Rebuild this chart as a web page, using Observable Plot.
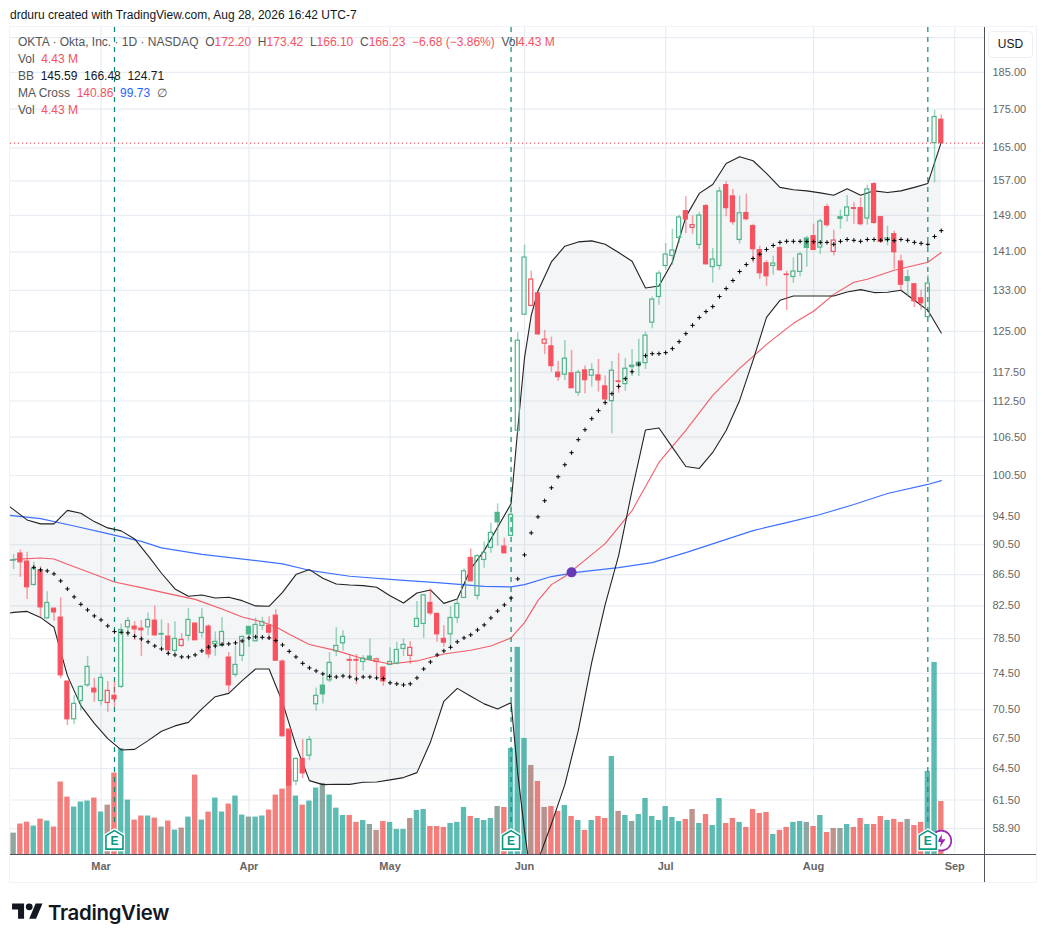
<!DOCTYPE html>
<html>
<head>
<meta charset="utf-8">
<script src="https://cdn.jsdelivr.net/npm/d3@7"></script>
<script src="https://cdn.jsdelivr.net/npm/@observablehq/plot@0.6"></script>
<style>
html,body{margin:0;padding:0;background:#fff;overflow:hidden;}
#page{position:relative;width:1046px;height:942px;font-family:"Liberation Sans",Arial,sans-serif;color:#131722;}
#page svg.chart{position:absolute;left:0;top:0;}
#head{position:absolute;left:10px;top:7px;font-size:12px;line-height:16px;white-space:nowrap;}
.lg{position:absolute;left:18px;font-size:12px;line-height:16px;color:#555;white-space:nowrap;}
.lg b{font-weight:normal;color:#f7525f;}
.lg i{font-style:normal;color:#131722;}
.lg u{text-decoration:none;color:#2962ff;}
.ln{position:absolute;background:#50535e;}
.fr{position:absolute;left:9px;top:26px;width:1026px;height:855px;border:1px solid #f0f3fa;}
#usd{position:absolute;left:988px;top:31px;width:43px;height:25px;border:1px solid #eceff3;border-radius:4px;background:#fff;font-size:12px;line-height:25px;text-align:center;color:#131722;}
#logo{position:absolute;left:12px;top:900px;display:flex;align-items:center;height:24px;}
#logo span{font-family:Inter,"Liberation Sans",sans-serif;font-weight:600;font-size:20.4px;letter-spacing:-.3px;color:#131722;margin-left:5px;}
</style>
</head>
<body>
<div id="page">
  <div class="fr"></div>
  <div id="chart"></div>
  <div class="ln" style="left:984px;top:27px;width:1px;height:855px"></div>
  <div class="ln" style="left:10px;top:854px;width:1026px;height:1px"></div>
  <div id="head">drduru created with TradingView.com, Aug 28, 2026 16:42 UTC-7</div>
  <div class="lg" style="top:34px">OKTA · Okta, Inc. · 1D · NASDAQ&nbsp; O<b>172.20</b>&nbsp; H<b>173.42</b>&nbsp; L<b>166.10</b>&nbsp; C<b>166.23</b>&nbsp; <b>−6.68 (−3.86%)</b>&nbsp; Vol<b>4.43 M</b></div>
  <div class="lg" style="top:51px">Vol&nbsp; <b>4.43 M</b></div>
  <div class="lg" style="top:68px">BB&nbsp; <i>145.59</i>&nbsp; <i>166.48</i>&nbsp; <i>124.71</i></div>
  <div class="lg" style="top:85px">MA Cross&nbsp; <b>140.86</b>&nbsp; <u>99.73</u>&nbsp; ∅</div>
  <div class="lg" style="top:102px">Vol&nbsp; <b>4.43 M</b></div>
  <div id="usd">USD</div>
  <div id="logo">
    <svg width="31" height="24" viewBox="0 0 36 28" fill="#131722"><path d="M14 22H7V11H0V4h14v18zM28 22h-8l7.5-18h8L28 22z"/><circle cx="20" cy="8" r="4"/></svg>
    <span>TradingView</span>
  </div>
</div>
<script>
const opens = [88.42,89.30,88.22,85.16,87.03,80.96,82.16,81.05,73.57,69.49,
71.45,73.16,72.79,71.45,71.23,72.00,72.98,79.87,79.95,79.71,
79.87,80.68,79.07,78.75,77.07,77.65,78.84,80.32,79.19,79.95,
77.84,77.65,76.29,74.32,76.49,79.92,78.20,80.04,80.07,81.29,
75.83,68.41,63.26,65.44,65.77,71.09,73.12,73.71,77.02,77.96,
76.02,76.02,75.79,76.40,75.79,75.14,75.45,75.60,77.30,76.49,
79.92,80.28,82.87,81.50,78.48,79.03,81.01,83.50,88.71,83.76,
88.44,90.07,94.97,90.25,91.72,107.55,128.2,129.9,132.4,122.7,
122.2,117.43,117.07,117.3,113.92,117.83,116.89,116.94,115.01,112.48,
115.8,115.41,118.67,118.6,119.14,126.66,131.68,138.01,140.12,144.0,
149.94,146.2,142.48,151.09,137.78,138.01,155.98,153.33,143.56,149.52,
146.58,141.34,138.58,138.01,141.77,136.22,135.73,136.77,143.87,144.37,
141.92,150.86,140.97,148.58,148.88,150.63,150.63,148.29,156.2,148.58,
143.43,144.81,138.94,135.67,134.24,131.42,127.74,166.2,172.20];
const closes = [88.35,88.13,84.86,87.25,82.32,82.87,81.70,74.27,69.49,71.13,
72.98,75.22,72.38,73.98,72.54,71.62,79.55,80.64,79.63,79.51,
80.77,78.91,78.99,77.14,78.48,78.36,80.77,78.32,81.01,76.67,
78.13,79.31,73.16,75.45,78.72,79.03,80.16,80.52,79.23,75.94,
67.72,62.85,65.44,64.03,67.35,72.00,72.16,75.68,77.65,78.72,
75.94,75.94,76.17,76.02,76.09,73.60,75.79,77.18,77.77,77.42,
80.89,83.83,81.58,79.03,78.04,81.01,82.75,86.94,85.63,88.94,
89.39,92.14,93.63,89.34,94.68,123.25,139.78,135.2,124.44,123.44,
118.6,116.64,119.94,114.7,117.42,116.11,117.88,116.06,112.77,117.78,
115.89,118.13,118.42,119.21,124.2,131.16,136.43,140.42,141.28,148.52,
148.07,146.8,148.95,138.37,139.36,154.49,150.63,147.47,149.46,148.13,
141.55,136.49,135.87,138.51,137.12,136.12,136.85,140.42,141.83,141.4,
147.62,146.8,143.43,148.2,150.79,150.47,147.02,154.96,147.3,143.13,
143.87,140.91,134.15,134.91,130.82,130.43,134.38,172.91,166.23];
const highs = [89.17,89.79,89.48,88.13,87.56,84.30,82.16,83.50,73.57,72.02,
73.12,76.40,73.94,74.46,73.57,73.57,80.28,81.08,80.56,80.68,
81.63,82.49,80.77,80.32,80.56,79.11,82.16,80.36,82.16,80.16,
79.31,81.05,76.87,77.61,78.79,79.95,81.01,81.08,81.17,82.03,
76.02,68.41,65.57,67.38,67.69,72.87,74.05,76.87,79.83,79.47,
76.60,76.64,76.52,78.48,76.20,75.14,77.45,78.08,78.48,78.16,
83.04,83.88,84.65,81.63,80.07,82.41,83.50,87.25,89.93,89.17,
90.89,93.48,96.29,91.39,96.03,124.76,142.42,136.9,132.4,125.2,
123.92,119.45,123.31,121.46,117.83,118.6,119.03,119.81,116.82,119.45,
120.85,119.99,121.64,123.5,124.88,131.68,136.97,142.78,145.91,149.04,
153.23,148.88,149.64,151.48,141.7,155.44,156.76,154.96,153.39,153.86,
147.02,142.2,139.15,140.06,142.2,136.91,139.7,140.85,144.37,147.02,
148.13,151.55,145.69,150.17,153.56,151.85,153.0,155.98,156.52,148.66,
146.58,145.47,140.27,137.12,134.24,133.02,136.08,174.7,173.42];
const lows = [87.16,86.15,83.32,85.0,81.08,80.89,80.60,73.87,68.83,68.93,
70.34,72.93,71.30,70.94,70.23,70.76,72.83,78.67,78.28,76.44,
78.87,78.79,77.49,76.60,76.75,77.49,78.20,78.28,78.60,76.20,
76.44,77.61,72.38,74.05,75.83,77.49,78.13,79.47,78.36,75.88,
67.69,62.76,62.85,63.52,65.27,70.34,71.13,73.46,76.40,77.02,
74.05,73.23,74.72,75.94,74.16,73.04,75.41,75.48,76.44,75.52,
79.83,78.55,81.29,78.08,77.49,77.49,80.32,83.46,85.59,83.25,
87.33,89.34,90.29,89.26,91.62,107.11,128.1,129.83,124.25,120.72,
117.5,115.88,116.06,114.66,113.33,113.75,114.89,114.03,112.21,107.06,
113.85,114.15,116.76,116.76,118.0,125.52,130.03,137.12,138.16,142.78,
144.96,144.81,141.55,138.16,134.5,137.12,148.66,146.8,142.63,147.75,
138.65,135.25,133.83,136.08,136.97,129.05,134.43,135.73,137.78,141.34,
140.42,146.35,140.12,145.91,147.53,147.02,146.64,146.8,147.02,142.85,
142.27,137.26,132.88,131.68,129.59,129.05,127.63,156.5,166.10];
// candle colour: g = close above previous close, r = below
const trend = ("grrgrgrrrg"+"ggrgrrggrr"+"grgrgrgrgr"+"ggrgggggrr"+"rrgrgggggg"+"rrggrrgggr"+"ggrrrgggrg"+
  "gggrgggrrr"+"rrgrgrgrrg"+"rggggggggg"+"rrgrggrrgr"+"rrrgrrgggr"+"grrggrrgrr"+"grrgrrggr").split("");
// volume in millions
const volumes = [1.78,2.54,2.70,2.37,2.95,2.79,2.29,6.05,4.79,3.96,
4.38,4.46,4.71,3.54,4.12,6.80,8.84,4.54,2.87,3.21,
3.21,3.04,2.29,2.79,2.03,2.20,3.12,6.63,2.87,3.54,
4.71,3.54,4.21,4.88,3.29,3.12,3.12,3.21,3.71,4.96,
5.46,7.19,4.88,4.12,4.46,5.55,5.94,4.96,3.87,3.26,
3.26,2.68,2.84,2.51,2.01,2.76,2.68,2.09,2.09,3.01,
3.68,3.76,2.34,2.34,2.26,2.59,2.68,3.93,3.18,3.01,
2.84,3.01,4.01,3.93,8.86,17.31,9.70,7.44,6.10,3.93,
4.01,3.60,4.10,3.18,2.84,2.01,2.84,3.18,3.01,8.19,
3.60,3.26,2.76,3.34,4.68,3.18,2.84,4.01,3.09,2.76,
2.93,3.76,2.59,3.34,2.42,4.68,2.59,3.01,2.68,2.26,
3.76,3.43,3.51,1.67,2.01,2.26,2.68,2.76,2.68,2.34,
3.26,1.84,2.17,2.17,2.51,2.26,3.01,2.51,2.51,3.18,
2.84,2.93,2.68,2.93,2.42,2.68,6.94,16.05,4.43];

const bbIndex = [-1,0,2,4,6,8,10,12,14,16,18,20,22,24,26,28,30,32,34,36,38,40,42,44,46,48,50,52,54,56,58,60,62,64,66,68,70,72,74,75,76,77,78,
80,82,84,86,88,90,92,94,96,98,100,102,104,106,108,110,112,114,116,118,120,122,124,126,128,130,132,134,136,138];
const bbUpper = [96.18,95.45,93.97,93.41,93.41,95.34,94.91,93.73,92.84,92.42,91.30,89.02,86.68,84.65,83.71,83.88,83.50,83.58,83.16,82.50,82.45,84.21,86.51,87.16,86.02,85.29,85.16,85.07,84.86,83.79,82.87,84.13,84.52,82.82,83.37,87.25,89.70,92.93,96.29,107.91,120.06,128.07,132.88,
138.85,142.2,143.13,143.35,142.63,140.85,139.0,133.48,133.88,138.85,148.66,154.03,156.13,161.18,162.82,161.83,158.76,155.44,154.87,154.63,154.16,153.62,155.1,153.62,154.63,154.26,154.63,155.44,156.38,166.48];
const bbLower = [81.54,81.7,81.82,81.08,79.87,74.24,70.94,69.07,67.49,66.34,66.4,67.28,68.24,68.8,69.17,70.59,71.91,72.27,73.68,74.99,74.99,71.30,66.77,63.33,62.95,62.99,62.97,63.17,63.2,63.4,63.62,64.1,67.11,71.41,72.82,71.95,71.13,70.59,71.26,64.0,58.71,54.45,56.1,
59.3,62.95,68.31,75.75,82.66,89.02,98.25,107.68,108.0,104.87,101.88,101.58,104.07,107.6,112.6,119.63,127.69,131.02,131.87,131.87,131.87,131.87,132.67,133.16,132.56,132.62,133.02,131.02,129.05,124.71];
// Bollinger basis, bars 3..138
const basisStart = 3;
const bbBasis = [87.46,87.12,86.99,86.6,85.68,84.65,83.63,
82.7,82,81.26,80.77,80.04,79.35,79.27,79.2,78.79,78.48,
78.13,77.65,77.3,76.79,76.6,76.37,76.37,76.6,77.07,77.52,
77.65,77.84,77.89,78.01,78.24,78.6,78.72,78.67,78.6,78.28,
77.77,77.02,76.37,75.63,75.11,74.77,74.43,74.16,74.09,74.2,
74.09,73.87,74.09,74.09,73.98,73.9,73.43,73.32,73.2,73.32,
73.98,74.99,75.79,76.6,77.07,77.49,78.13,78.6,78.96,79.55,
80.16,81.01,81.87,82.62,83.5,85.94,89.12,92.14,94.4,96.73,
98.65,100.31,102.15,104.03,106.1,107.71,109.52,110.86,112.21,113.75,
115.01,116.36,117.6,118.96,120.49,120.85,120.85,121.04,121.78,123.07,
124.57,126.15,127.64,128.8,129.78,131.76,133.36,135,136.85,138.3,
139.57,140.48,141.5,142.36,143.03,143.25,143.25,143.25,143.2,143.16,
143.03,143.03,142.6,143.25,143.65,143.47,143.25,143.65,143.65,143.5,
143.65,143.4,143.65,143.47,143.03,142.82,142.6,144.3,145.59];
const sma50Index = [-1,0,4,6,8,12,15,19,23,27,31,34,37,39,41,44,48,52,56,60,64,68,71,74,76,78,80,82,84,88,92,96,100,104,108,112,116,119,122,125,127,131,136,138];
const sma50 = [88.26,88.52,88.71,88.58,87.86,86.55,85.55,84.82,84.05,83.32,82.12,81.13,80.52,79.95,79.03,77.81,77.1,76.17,75.56,75.91,76.71,77.14,77.65,78.6,80.44,83.16,85.2,86.25,87.69,90.66,95.3,102.51,107.6,113.46,118.18,122.56,126.53,128.86,132.2,134.64,135.25,137.12,138.78,140.86];
const sma200Index = [-1,4,9,14,19,22,28,37,40,44,50,57,63,70,74,76,80,84,90,95,100,105,110,115,120,125,130,136,138];
const sma200 = [94.68,94.15,93.11,92.04,90.97,90.07,89.2,88.26,87.91,87.07,86.29,85.81,85.46,84.98,84.9,85.2,86.25,86.83,87.42,88.09,89.43,90.93,92.46,93.59,94.74,96.19,97.8,99.15,99.73];
const crossIndex = [83], crossPrice = [86.8];
const earningsIndex = [15,74,136];
const splitIndex = [138];
const priceTicks = [185,175,165,157,149,141,133,125,117.5,112.5,106.5,100.5,94.5,90.5,86.5,82.5,78.5,74.5,70.5,67.5,64.5,61.5,58.9];
const gridTicks = [195,...priceTicks];
const monthIndex = [13,35,56,76,97,119,140];
const monthLabels = ["Mar","Apr","May","Jun","Jul","Aug","Sep"];
const lastClose = 166.23;

const priceMin = 56.63, priceMax = 198.0;
const markerPrice = 57.83, markerTop = 59.2;
// secondary volume scale: volume stacks up from the chart floor on the log axis
const volK = 0.01811;
const volY = v => priceMin * Math.exp(v * volK);

const UP = "#4fb58a", DOWN = "#f7525f";
const bars = opens.map((o,i)=>({i,o,c:closes[i],h:highs[i],l:lows[i],v:volumes[i],t:trend[i],
  top:Math.max(o,closes[i]),bot:Math.min(o,closes[i]),hollow:closes[i]>o}));
const band = bbIndex.map((i,k)=>({i,u:bbUpper[k],l:bbLower[k]}));
const basis = bbBasis.map((y,k)=>({i:basisStart+k,y}));
const ma50 = sma50.map((y,k)=>({i:sma50Index[k],y}));
const ma200 = sma200.map((y,k)=>({i:sma200Index[k],y}));
const cross = crossIndex.map((i,k)=>({i,y:crossPrice[k]}));

const house = {draw(c,size){const s=Math.sqrt(size/Math.PI);
  c.moveTo(0,-s);c.lineTo(s*.85,-s*.5);c.lineTo(s*.85,s*.85);c.lineTo(-s*.85,s*.85);c.lineTo(-s*.85,-s*.5);c.closePath();}};
const bolt = {draw(c,size){const s=Math.sqrt(size/Math.PI);
  c.moveTo(s*.1,-s);c.lineTo(-s*.65,s*.2);c.lineTo(-s*.05,s*.2);c.lineTo(-s*.2,s);c.lineTo(s*.65,-s*.2);c.lineTo(s*.05,-s*.2);c.closePath();}};

const volBars = (data,fill)=>Plot.rect(data,{x1:d=>d.i-.39,x2:d=>d.i+.39,y1:priceMin,y2:d=>volY(d.v),fill,fillOpacity:.5});
const wick = (data,stroke)=>[
  Plot.ruleX(data,{x:"i",y1:"h",y2:"top",stroke,strokeOpacity:.55,strokeWidth:1.5}),
  Plot.ruleX(data,{x:"i",y1:"bot",y2:"l",stroke,strokeOpacity:.55,strokeWidth:1.5})];
const body = (data,stroke,fill)=>Plot.rect(data,{x1:d=>d.i-.3,x2:d=>d.i+.3,y1:"bot",y2:"top",stroke,strokeWidth:1.2,fill});
const up = d=>d.t==="g", dn = d=>d.t==="r";
const TEAL="#26a69a", RED="#ef5350", GRID="#e7edf3";

const chart = Plot.plot({
  width:1046,height:882,marginLeft:10,marginRight:62,marginTop:27,marginBottom:28,
  x:{domain:[-0.466,144.43]},
  y:{type:"log",domain:[priceMin,priceMax]},
  style:{fontFamily:'"Liberation Sans",Arial,sans-serif',fontSize:"12px",background:"transparent"},
  className:"chart",
  marks:[
    Plot.ruleY(gridTicks,{stroke:GRID,strokeWidth:1.2}),
    Plot.ruleX(monthIndex,{stroke:GRID,strokeWidth:1.2}),
    Plot.axisY({anchor:"right",ticks:priceTicks,tickFormat:d=>d.toFixed(2),tickSize:0,tickPadding:8,fill:"#666",label:null,fontSize:11}),
    Plot.axisX({ticks:monthIndex,tickFormat:i=>monthLabels[monthIndex.indexOf(i)],tickSize:0,tickPadding:8,fill:"#666",fontWeight:"bold",label:null,fontSize:11}),
    volBars(bars.filter(d=>d.c>d.o),TEAL),
    volBars(bars.filter(d=>d.c<=d.o),RED),
    volBars(bars.filter(up),TEAL),
    volBars(bars.filter(dn),RED),
    Plot.areaY(band,{x:"i",y1:"l",y2:"u",fill:"#787b86",fillOpacity:.08,clip:true}),
    Plot.ruleX(earningsIndex,{y1:priceMax,y2:markerTop,stroke:"#0d8a74",strokeWidth:1.2,strokeDasharray:"5,5"}),
    Plot.ruleY([lastClose],{stroke:DOWN,strokeWidth:1.2,strokeDasharray:"1,3"}),
    Plot.line(ma200,{x:"i",y:"y",stroke:"#2962ff",strokeWidth:1.2,clip:true,strokeOpacity:.9}),
    Plot.line(ma50,{x:"i",y:"y",stroke:"#f23645",strokeWidth:1.1,clip:true,strokeOpacity:.8}),
    Plot.line(band,{x:"i",y:"u",stroke:"#222",strokeWidth:1.1,clip:true}),
    Plot.line(band,{x:"i",y:"l",stroke:"#222",strokeWidth:1.1,clip:true}),
    ...wick(bars.filter(up),UP),
    ...wick(bars.filter(dn),DOWN),
    body(bars.filter(d=>up(d)&&d.hollow),UP,"none"),
    body(bars.filter(d=>up(d)&&!d.hollow),UP,UP),
    body(bars.filter(d=>dn(d)&&d.hollow),DOWN,"none"),
    body(bars.filter(d=>dn(d)&&!d.hollow),DOWN,DOWN),
    Plot.dot(basis,{x:"i",y:"y",symbol:"plus",r:1.5,stroke:"#000",strokeWidth:1}),
    Plot.dot(cross,{x:"i",y:"y",r:5,fill:"#673ab7"}),
    Plot.dot(splitIndex,{x:d=>d,y:markerPrice,r:10,fill:"#fff",stroke:"#9c27b0",strokeWidth:1.6}),
    Plot.dot(splitIndex,{x:d=>d,y:markerPrice,r:6.5,symbol:bolt,fill:"#9c27b0",stroke:"none"}),
    Plot.dot(earningsIndex,{x:d=>d,y:markerPrice,r:11,symbol:house,fill:"#fff",stroke:"#fff",strokeWidth:2.5}),
    Plot.dot(earningsIndex,{x:d=>d,y:markerPrice,r:10,symbol:house,fill:"#fff",stroke:"#089981",strokeWidth:1.6}),
    Plot.text(earningsIndex,{x:d=>d,y:markerPrice,text:()=>"E",fill:"#089981",fontWeight:"bold",fontSize:12,dy:1})
  ]
});
document.getElementById("chart").appendChild(chart);
</script>
</body>
</html>
